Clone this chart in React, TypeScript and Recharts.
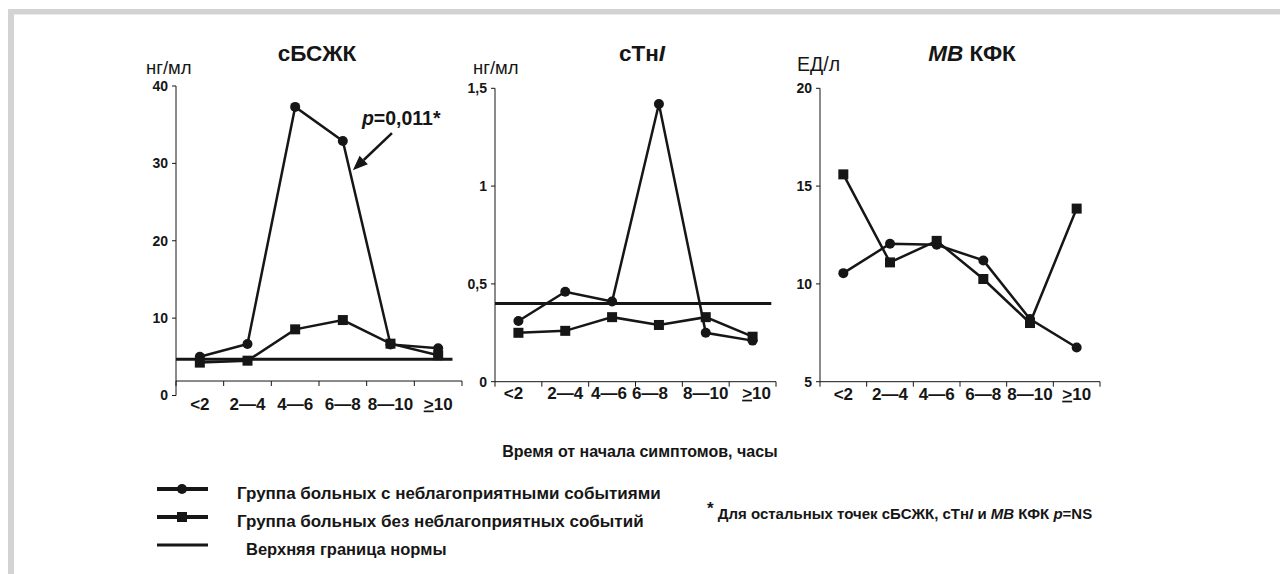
import React from 'react';
import { LineChart, Line, XAxis, YAxis, ReferenceLine } from 'recharts';

const INK = '#161616';
const FONT = '"Liberation Sans", Arial, Helvetica, sans-serif';

// time since onset of symptoms, hours
const timeLabels = ['<2', '2—4', '4—6', '6—8', '8—10', '>10'];
const timePos = [0.5, 1.5, 2.5, 3.5, 4.5, 5.5];
const timeBounds = [0, 1, 2, 3, 4, 5, 6];

// сБСЖК, нг/мл
const fabpAdverse = [5.0, 6.65, 37.3, 32.9, 6.6, 6.1];
const fabpNoAdverse = [4.25, 4.5, 8.55, 9.75, 6.7, 5.2];
const fabpNorm = 4.7;
const fabpTicks = [0, 10, 20, 30, 40];

// сТнI, нг/мл
const tniAdverse = [0.31, 0.46, 0.41, 1.42, 0.25, 0.21];
const tniNoAdverse = [0.25, 0.26, 0.33, 0.29, 0.33, 0.23];
const tniNorm = 0.4;
const tniTicks = [0, 0.5, 1, 1.5];

// MB КФК, ЕД/л
const ckAdverse = [10.55, 12.05, 12.0, 11.2, 8.2, 6.75];
const ckNoAdverse = [15.6, 11.1, 12.2, 10.25, 8.0, 13.85];
const ckNorm = null;
const ckTicks = [5, 10, 15, 20];

const rows = (a: number[], b: number[]) =>
  timePos.map((t, i) => ({ t, label: timeLabels[i], adverse: a[i], noAdverse: b[i] }));

const comma = (v: number) => String(v).replace('.', ',');

const SquareDot = (props: any) => {
  const { cx, cy, index } = props;
  if (cx == null || cy == null) return null;
  return <rect key={`sq-${index}`} x={cx - 5} y={cy - 5} width={10} height={10} fill={INK} />;
};

// tick: boundary marks at integers, category labels at the half steps
const TimeTick = (props: any) => {
  const { x, y, payload, lift, labelDy, shifts } = props;
  const idx = timePos.indexOf(payload.value);
  if (idx < 0) {
    return <line x1={x} x2={x} y1={y - lift} y2={y - lift + 5} stroke={INK} strokeWidth={1} />;
  }
  const lab = timeLabels[idx];
  const dx = shifts ? shifts[idx] : 0;
  return (
    <text x={x + dx} y={y + labelDy} textAnchor="middle" fontSize={17} fontWeight="bold" fill={INK} fontFamily={FONT}>
      {lab.startsWith('>') ? (
        <>
          <tspan style={{ textDecoration: 'underline' }}>&gt;</tspan>
          {lab.slice(1)}
        </>
      ) : (
        lab
      )}
    </text>
  );
};

const Arrow = (props: any) => {
  const { x1, y1, x2, y2 } = props;
  const dx = x2 - x1;
  const dy = y2 - y1;
  const len = Math.sqrt(dx * dx + dy * dy) || 1;
  const ux = dx / len;
  const uy = dy / len;
  const bx = x2 - ux * 15;
  const by = y2 - uy * 15;
  return (
    <g>
      <line x1={x1} y1={y1} x2={bx} y2={by} stroke={INK} strokeWidth={2.5} />
      <polygon
        points={`${x2},${y2} ${bx - uy * 6},${by + ux * 6} ${bx + uy * 6},${by - ux * 6}`}
        fill={INK}
      />
      <text x={x1 - 30} y={y1 - 8} fontSize={19.5} fontWeight="bold" fill={INK} fontFamily={FONT}>
        <tspan fontStyle="italic">p</tspan>=0,011*
      </text>
    </g>
  );
};

interface PanelProps {
  left: number;
  width: number;
  margin: { top: number; right: number; left: number; bottom: number };
  yWidth: number;
  domain: [number, number];
  yTicks: number[];
  adverse: number[];
  noAdverse: number[];
  norm: number | null;
  normEnd?: number;
  axisLevel?: number;
  lift: number;
  labelDy: number;
  shifts?: number[];
  children?: React.ReactNode;
}

const Panel: React.FC<PanelProps> = (p) => (
  <div style={{ position: 'absolute', left: p.left, top: 40 }}>
    <LineChart width={p.width} height={400} data={rows(p.adverse, p.noAdverse)} margin={p.margin}>
      <XAxis
        dataKey="t"
        type="number"
        domain={[0, 6]}
        ticks={[...timeBounds, ...timePos].sort((a, b) => a - b)}
        interval={0}
        height={30}
        axisLine={p.axisLevel == null ? { stroke: INK, strokeWidth: 1 } : false}
        tickLine={false}
        tickSize={0}
        tickMargin={0}
        tick={(tp: any) => <TimeTick {...tp} lift={p.lift} labelDy={p.labelDy} shifts={p.shifts} />}
      />
      <YAxis
        type="number"
        domain={p.domain}
        ticks={p.yTicks}
        width={p.yWidth}
        interval={0}
        tickFormatter={comma}
        axisLine={{ stroke: INK, strokeWidth: 1 }}
        tickLine={{ stroke: INK, strokeWidth: 1 }}
        tickSize={4}
        tickMargin={4}
        tick={{ fontSize: 14, fontWeight: 'bold', fill: INK, fontFamily: FONT }}
      />
      {p.axisLevel != null && <ReferenceLine y={p.axisLevel} stroke={INK} strokeWidth={1} />}
      {p.norm != null && (
        <ReferenceLine
          segment={[
            { x: 0, y: p.norm },
            { x: p.normEnd ?? 6, y: p.norm },
          ]}
          stroke={INK}
          strokeWidth={3}
        />
      )}
      <Line
        dataKey="adverse"
        type="linear"
        stroke={INK}
        strokeWidth={2.5}
        dot={{ r: 5, fill: INK, stroke: 'none' }}
        isAnimationActive={false}
      />
      <Line
        dataKey="noAdverse"
        type="linear"
        stroke={INK}
        strokeWidth={2.5}
        dot={SquareDot}
        isAnimationActive={false}
      />
      {p.children}
    </LineChart>
  </div>
);

const txt = { fill: INK, fontFamily: FONT } as const;

export default function App() {
  return (
    <div style={{ position: 'absolute', left: 0, top: 0, width: 1280, height: 574, background: '#fff', fontFamily: FONT }}>
      <div style={{ position: 'absolute', left: 8, top: 9, width: 1272, height: 5, background: '#d3d3d3' }} />
      <div style={{ position: 'absolute', left: 14, top: 14, width: 1266, height: 1, background: '#e8ebef' }} />
      <div style={{ position: 'absolute', left: 8, top: 9, width: 6, height: 565, background: '#d3d3d3' }} />

      <svg width={1280} height={574} style={{ position: 'absolute', left: 0, top: 0 }}>
        <text x={317} y={61} textAnchor="middle" fontSize={22.5} fontWeight="bold" {...txt}>сБСЖК</text>
        <text x={642} y={61} textAnchor="middle" fontSize={22.5} fontWeight="bold" {...txt}>
          сТн<tspan fontStyle="italic">I</tspan>
        </text>
        <text x={972} y={61} textAnchor="middle" fontSize={22.5} fontWeight="bold" {...txt}>
          <tspan fontStyle="italic">MB</tspan> КФК
        </text>
        <text x={146} y={74} fontSize={18.5} {...txt}>нг/мл</text>
        <text x={473} y={74} fontSize={18.5} {...txt}>нг/мл</text>
        <text x={797} y={71} fontSize={19.5} {...txt}>ЕД/л</text>

        <text x={640} y={457} textAnchor="middle" fontSize={16} fontWeight="bold" {...txt}>
          Время от начала симптомов, часы
        </text>

        <line x1={157} x2={208} y1={489} y2={489} stroke={INK} strokeWidth={4} />
        <circle cx={182} cy={489} r={5} fill={INK} />
        <line x1={157} x2={208} y1={517} y2={517} stroke={INK} strokeWidth={4} />
        <rect x={177} y={512} width={10} height={10} fill={INK} />
        <line x1={157} x2={208} y1={545} y2={545} stroke={INK} strokeWidth={3} />

        <text x={237} y={499} fontSize={17} fontWeight="bold" {...txt}>Группа больных с неблагоприятными событиями</text>
        <text x={237} y={527} fontSize={17} fontWeight="bold" {...txt}>Группа больных без неблагоприятных событий</text>
        <text x={246} y={555} fontSize={16.5} fontWeight="bold" {...txt}>Верхняя граница нормы</text>

        <text x={707} y={519} fontSize={15} fontWeight="bold" {...txt}>
          <tspan fontSize={17} dy={-5}>*</tspan>
          <tspan dy={5}> Для остальных точек сБСЖК, сТн</tspan>
          <tspan fontStyle="italic">I</tspan> и <tspan fontStyle="italic">MB</tspan> КФК{' '}
          <tspan fontStyle="italic">p</tspan>=NS
        </text>
      </svg>

      <Panel
        left={110}
        width={370}
        margin={{ top: 46, right: 18, left: 6, bottom: 14.5 }}
        yWidth={60}
        domain={[0, 40]}
        yTicks={fabpTicks}
        adverse={fabpAdverse}
        noAdverse={fabpNoAdverse}
        norm={fabpNorm}
        normEnd={5.8}
        axisLevel={1.87}
        lift={14.5}
        labelDy={14}
      >
        <ReferenceLine
          segment={[
            { x: 4.53, y: 33.9 },
            { x: 3.71, y: 29.1 },
          ]}
          shape={Arrow}
        />
      </Panel>
      <Panel
        left={440}
        width={360}
        margin={{ top: 48.3, right: 24, left: 5, bottom: 28.3 }}
        yWidth={50}
        domain={[0, 1.5]}
        yTicks={tniTicks}
        adverse={tniAdverse}
        noAdverse={tniNoAdverse}
        norm={tniNorm}
        normEnd={5.9}
        lift={0}
        labelDy={17}
        shifts={[-5, 0, -3, -9, 0, 4]}
      />
      <Panel
        left={770}
        width={350}
        margin={{ top: 48.3, right: 20, left: 5, bottom: 28.3 }}
        yWidth={45}
        domain={[5, 20]}
        yTicks={ckTicks}
        adverse={ckAdverse}
        noAdverse={ckNoAdverse}
        norm={ckNorm}
        lift={0}
        labelDy={18}
      />
    </div>
  );
}
